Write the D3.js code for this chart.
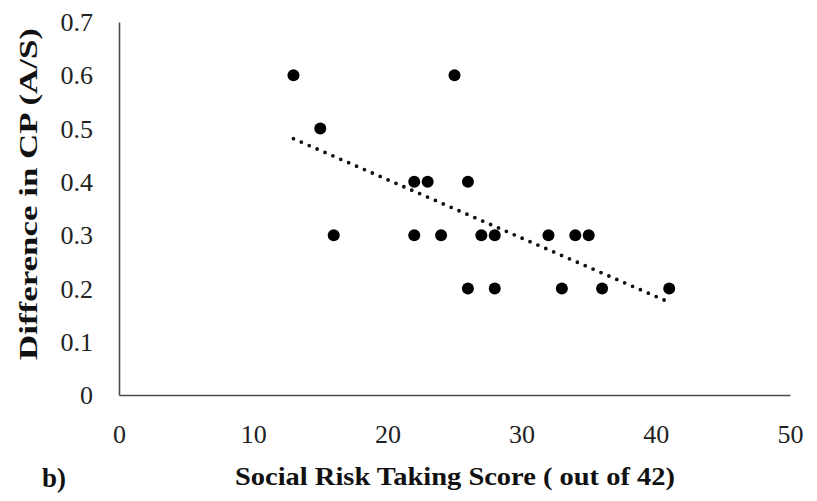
<!DOCTYPE html>
<html>
<head>
<meta charset="utf-8">
<script src="https://cdn.jsdelivr.net/npm/d3@7"></script>
<style>
  html, body { margin: 0; padding: 0; background: #fff; }
  svg { display: block; }
</style>
</head>
<body>
<svg id="chart" width="817" height="501"></svg>
<script>
// Social risk taking score vs. difference in CP (A/S)
const scores = [13, 15, 16, 22, 22, 23, 24, 25, 26, 26, 27, 28, 28, 32, 33, 34, 35, 36, 41];
const cpDiff = [0.6, 0.5, 0.3, 0.4, 0.3, 0.4, 0.3, 0.6, 0.4, 0.2, 0.3, 0.3, 0.2, 0.3, 0.2, 0.3, 0.3, 0.2, 0.2];
const xTicks = [0, 10, 20, 30, 40, 50];
const yTicks = [0, 0.1, 0.2, 0.3, 0.4, 0.5, 0.6, 0.7];

const svg = d3.select("#chart");
const serif = "'Liberation Serif', 'Times New Roman', serif";

const x = d3.scaleLinear().domain([0, 50]).range([119, 790]);
const y = d3.scaleLinear().domain([0, 0.7]).range([395, 22]);

// Axes (lines only, no tick marks)
const xAxis = d3.axisBottom(x).tickValues(xTicks).tickSize(0).tickPadding(0).tickFormat(d3.format("d"));
const yAxis = d3.axisLeft(y).tickValues(yTicks).tickSize(0).tickPadding(0)
  .tickFormat(d => d === 0 ? "0" : d3.format(".1f")(d));

const gx = svg.append("g").attr("transform", `translate(0,${y(0)})`).call(xAxis);
gx.select(".domain").attr("stroke", "#4a4a4a").attr("stroke-width", 1.6);
gx.selectAll(".tick text")
  .attr("y", 48).attr("dy", 0)
  .attr("font-family", serif).attr("font-size", 26).attr("fill", "#222");

const gy = svg.append("g").attr("transform", `translate(${x(0)},0)`).call(yAxis);
gy.select(".domain").attr("stroke", "#4a4a4a").attr("stroke-width", 1.6);
gy.selectAll(".tick text")
  .attr("x", -26).attr("dy", "0.33em")
  .attr("font-family", serif).attr("font-size", 26).attr("fill", "#222");

// Least-squares trend line
const n = scores.length;
const mx = d3.mean(scores), my = d3.mean(cpDiff);
const sxy = d3.sum(scores, (s, i) => (s - mx) * (cpDiff[i] - my));
const sxx = d3.sum(scores, s => (s - mx) * (s - mx));
const slope = sxy / sxx, intercept = my - slope * mx;
const [x0, x1] = d3.extent(scores);

svg.append("line")
  .attr("x1", x(x0)).attr("y1", y(intercept + slope * x0))
  .attr("x2", x(x1)).attr("y2", y(intercept + slope * x1))
  .attr("stroke", "#111").attr("stroke-width", 3.8)
  .attr("stroke-linecap", "round").attr("stroke-dasharray", "0 8.6");

// Data points
svg.append("g").selectAll("circle")
  .data(scores.map((s, i) => ({ s, v: cpDiff[i] })))
  .join("circle")
  .attr("cx", d => x(d.s)).attr("cy", d => y(d.v))
  .attr("r", 6).attr("fill", "#000");

// Axis titles
svg.append("text")
  .attr("x", 455).attr("y", 485)
  .attr("text-anchor", "middle")
  .attr("font-family", serif).attr("font-weight", "bold").attr("font-size", 26)
  .attr("textLength", 440).attr("lengthAdjust", "spacingAndGlyphs")
  .attr("fill", "#111")
  .text("Social Risk Taking Score ( out of 42)");

svg.append("text")
  .attr("transform", "translate(37,194) rotate(-90)")
  .attr("text-anchor", "middle")
  .attr("font-family", serif).attr("font-weight", "bold").attr("font-size", 26)
  .attr("textLength", 332).attr("lengthAdjust", "spacingAndGlyphs")
  .attr("fill", "#111")
  .text("Difference in CP (A/S)");

// Panel label
svg.append("text")
  .attr("x", 42).attr("y", 487)
  .attr("font-family", serif).attr("font-weight", "bold").attr("font-size", 27)
  .attr("fill", "#111")
  .text("b)");
</script>
</body>
</html>
